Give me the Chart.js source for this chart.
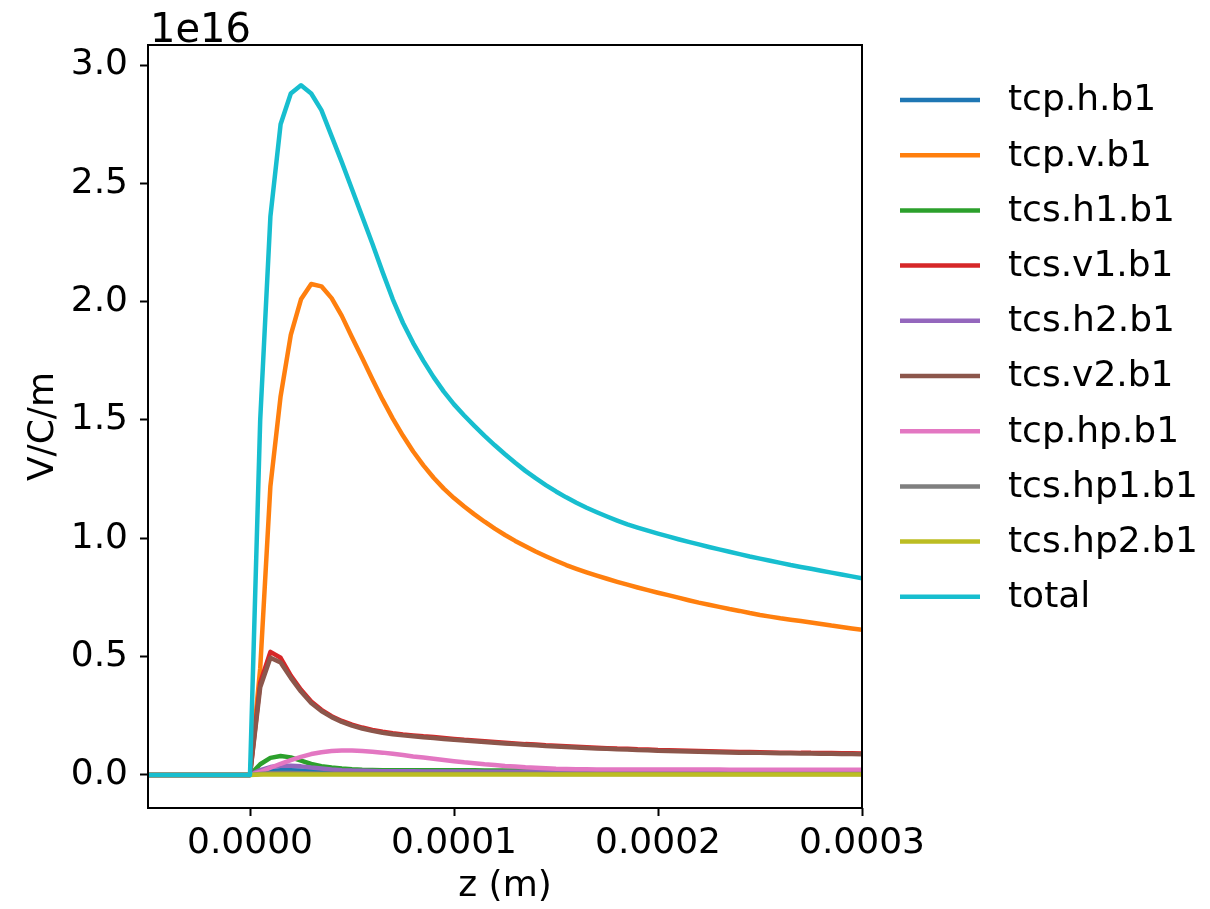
<!DOCTYPE html>
<html>
<head>
<meta charset="utf-8">
<script src="https://cdn.jsdelivr.net/npm/chart.js@4.4.1/dist/chart.umd.min.js"></script>
<style>
html,body{margin:0;padding:0;background:#fff;}
#wrap{width:1210px;height:909px;position:relative;}
</style>
</head>
<body>
<div id="wrap"><canvas id="c" width="1210" height="909"></canvas></div>
<script>
// z positions in micrometres (converted to metres below)
const zUm = [-50,-45,-40,-35,-30,-25,-20,-15,-10,-5,0,
  5,10,15,20,25,30,35,40,45,50,55,60,65,70,75,80,85,90,95,100,
  105,110,115,120,125,130,135,140,145,150,155,160,165,170,175,180,185,190,195,200,
  205,210,215,220,225,230,235,240,245,250,255,260,265,270,275,280,285,290,295,300];

const xTicks = [0, 0.0001, 0.0002, 0.0003];
const yTicks = [0, 0.5, 1.0, 1.5, 2.0, 2.5, 3.0];
const yOffsetLabel = "1e16";

const labels = ["tcp.h.b1","tcp.v.b1","tcs.h1.b1","tcs.v1.b1","tcs.h2.b1","tcs.v2.b1","tcp.hp.b1","tcs.hp1.b1","tcs.hp2.b1","total"];
const colors = ["#1f77b4","#ff7f0e","#2ca02c","#d62728","#9467bd","#8c564b","#e377c2","#7f7f7f","#bcbd22","#17becf"];

// values in units of 1e16 V/C/m
const tcp_h_b1 = [0,0,0,0,0,0,0,0,0,0,0,
  0.008,0.016,0.020,0.020,0.018,0.016,0.014,0.013,0.012,0.012,0.012,0.012,0.011,0.011,0.011,0.011,0.011,0.011,0.010,0.010,
  0.010,0.010,0.010,0.010,0.010,0.010,0.010,0.009,0.009,0.009,0.009,0.009,0.009,0.009,0.009,0.009,0.009,0.009,0.009,0.009,
  0.009,0.009,0.009,0.008,0.008,0.008,0.008,0.008,0.008,0.008,0.008,0.008,0.008,0.008,0.008,0.008,0.008,0.008,0.008,0.008];
const tcp_v_b1 = [0,0,0,0,0,0,0,0,0,0,0,
  0.45,1.22,1.60,1.86,2.01,2.075,2.065,2.015,1.94,1.85,1.762,1.672,1.586,1.506,1.433,1.367,1.308,1.256,1.210,1.170,
  1.134,1.101,1.070,1.041,1.014,0.989,0.966,0.944,0.924,0.905,0.887,0.871,0.856,0.842,0.829,0.816,0.804,0.792,0.781,0.770,
  0.76,0.749,0.738,0.728,0.719,0.71,0.701,0.693,0.684,0.676,0.669,0.662,0.656,0.65,0.644,0.638,0.631,0.625,0.619,0.613];
const tcs_h1_b1 = [0,0,0,0,0,0,0,0,0,0,0,
  0.045,0.072,0.080,0.074,0.060,0.046,0.037,0.031,0.027,0.024,0.022,0.021,0.020,0.020,0.020,0.020,0.020,0.020,0.020,0.020,
  0.020,0.020,0.019,0.019,0.019,0.019,0.019,0.019,0.019,0.019,0.019,0.019,0.019,0.019,0.018,0.018,0.018,0.018,0.018,0.018,
  0.018,0.018,0.018,0.018,0.018,0.018,0.018,0.018,0.018,0.018,0.017,0.017,0.017,0.017,0.017,0.017,0.017,0.017,0.017,0.017];
const tcs_v1_b1 = [0,0,0,0,0,0,0,0,0,0,0,
  0.39,0.52,0.495,0.42,0.36,0.31,0.275,0.248,0.228,0.212,0.20,0.19,0.182,0.176,0.171,0.167,0.163,0.16,0.156,0.152,
  0.148,0.145,0.142,0.139,0.136,0.133,0.13,0.128,0.125,0.123,0.121,0.119,0.117,0.115,0.113,0.111,0.11,0.108,0.107,0.105,
  0.104,0.103,0.102,0.101,0.10,0.099,0.098,0.097,0.097,0.096,0.095,0.094,0.094,0.093,0.093,0.092,0.092,0.091,0.091,0.09];
const tcs_h2_b1 = [0,0,0,0,0,0,0,0,0,0,0,
  0.020,0.033,0.039,0.039,0.036,0.031,0.027,0.023,0.020,0.018,0.017,0.016,0.015,0.015,0.015,0.015,0.014,0.014,0.014,0.014,
  0.014,0.014,0.013,0.013,0.013,0.013,0.013,0.013,0.013,0.013,0.012,0.012,0.012,0.012,0.012,0.012,0.012,0.012,0.012,0.012,
  0.012,0.012,0.012,0.012,0.012,0.011,0.011,0.011,0.011,0.011,0.011,0.011,0.011,0.011,0.011,0.011,0.011,0.011,0.011,0.011];
const tcs_v2_b1 = [0,0,0,0,0,0,0,0,0,0,0,
  0.37,0.495,0.475,0.41,0.352,0.304,0.27,0.244,0.224,0.208,0.196,0.186,0.178,0.172,0.167,0.163,0.159,0.156,0.152,0.148,
  0.145,0.142,0.139,0.136,0.133,0.13,0.127,0.125,0.122,0.12,0.118,0.116,0.114,0.112,0.11,0.108,0.107,0.105,0.104,0.102,
  0.101,0.10,0.099,0.098,0.097,0.096,0.095,0.094,0.094,0.093,0.092,0.091,0.091,0.09,0.09,0.089,0.089,0.088,0.088,0.087];
const tcp_hp_b1 = [0,0,0,0,0,0,0,0,0,0,0,
  0.012,0.030,0.047,0.062,0.076,0.088,0.096,0.101,0.103,0.103,0.101,0.098,0.094,0.089,0.084,0.078,0.073,0.068,0.063,0.058,
  0.053,0.049,0.045,0.042,0.038,0.035,0.032,0.030,0.028,0.026,0.025,0.024,0.024,0.023,0.023,0.023,0.023,0.023,0.023,0.023,
  0.023,0.023,0.023,0.023,0.023,0.023,0.022,0.022,0.022,0.022,0.022,0.022,0.022,0.022,0.022,0.022,0.022,0.022,0.022,0.022];
const tcs_hp1_b1 = [0,0,0,0,0,0,0,0,0,0,0,
  0.004,0.007,0.008,0.008,0.007,0.006,0.005,0.005,0.005,0.005,0.005,0.005,0.005,0.005,0.005,0.005,0.005,0.005,0.005,0.005,
  0.005,0.005,0.005,0.005,0.005,0.005,0.005,0.005,0.004,0.004,0.004,0.004,0.004,0.004,0.004,0.004,0.004,0.004,0.004,0.004,
  0.004,0.004,0.004,0.004,0.004,0.004,0.004,0.004,0.004,0.004,0.004,0.004,0.004,0.004,0.004,0.004,0.004,0.004,0.004,0.004];
const tcs_hp2_b1 = [0,0,0,0,0,0,0,0,0,0,0,
  0.002,0.002,0.002,0.002,0.002,0.002,0.002,0.002,0.002,0.002,0.002,0.002,0.002,0.002,0.002,0.002,0.002,0.002,0.002,0.002,
  0.002,0.002,0.002,0.002,0.002,0.002,0.002,0.002,0.002,0.002,0.002,0.002,0.002,0.002,0.002,0.002,0.002,0.002,0.002,0.002,
  0.002,0.002,0.002,0.002,0.002,0.002,0.002,0.002,0.002,0.002,0.002,0.002,0.002,0.002,0.002,0.002,0.002,0.002,0.002,0.002];
const total = [0,0,0,0,0,0,0,0,0,0,0,
  1.50,2.36,2.75,2.88,2.915,2.88,2.81,2.70,2.59,2.475,2.36,2.245,2.125,2.01,1.91,1.825,1.750,1.681,1.620,1.566,
  1.519,1.475,1.433,1.393,1.355,1.319,1.285,1.254,1.225,1.198,1.173,1.150,1.129,1.110,1.092,1.075,1.059,1.045,1.032,1.020,
  1.008,0.996,0.985,0.974,0.963,0.953,0.943,0.933,0.923,0.914,0.905,0.896,0.887,0.879,0.871,0.863,0.855,0.847,0.839,0.831];

const series = [tcp_h_b1,tcp_v_b1,tcs_h1_b1,tcs_v1_b1,tcs_h2_b1,tcs_v2_b1,tcp_hp_b1,tcs_hp1_b1,tcs_hp2_b1,total];
const zM = zUm.map(v => v * 1e-6);

const FONT = "'DejaVu Sans', sans-serif";
const FS = 36;

const datasets = series.map((vals, i) => ({
  label: labels[i],
  data: zM.map((z, k) => ({x: z, y: vals[k]})),
  borderColor: colors[i],
  backgroundColor: colors[i],
  borderWidth: 4.5,
  pointRadius: 0,
  tension: 0,
  fill: false,
  borderJoinStyle: 'round',
  borderCapStyle: 'butt',
  order: series.length - 1 - i
}));

const framePlugin = {
  id: 'frame',
  afterDraw(chart) {
    const ctx = chart.ctx;
    const a = chart.chartArea;
    ctx.save();
    ctx.strokeStyle = '#000';
    ctx.lineWidth = 2;
    ctx.strokeRect(a.left, a.top, a.right - a.left, a.bottom - a.top);
    // offset text
    ctx.fillStyle = '#000';
    ctx.font = '40px ' + FONT;
    ctx.textAlign = 'left';
    ctx.textBaseline = 'alphabetic';
    ctx.fillText(yOffsetLabel, 150, 42);
    // legend
    ctx.font = FS + 'px ' + FONT;
    const lx0 = 900, lx1 = 980, tx = 1008, y0 = 100, dy = 55.2;
    chart.data.datasets.forEach((ds, i) => {
      const y = y0 + i * dy;
      ctx.strokeStyle = ds.borderColor;
      ctx.lineWidth = 4.5;
      ctx.beginPath();
      ctx.moveTo(lx0, y);
      ctx.lineTo(lx1, y);
      ctx.stroke();
      ctx.fillStyle = '#000';
      ctx.textBaseline = 'middle';
      ctx.fillText(ds.label, tx, y + 1);
    });
    ctx.restore();
  }
};

new Chart(document.getElementById('c'), {
  type: 'line',
  data: { datasets },
  plugins: [framePlugin],
  options: {
    responsive: false,
    animation: false,
    layout: { padding: { left: 0, top: 45, right: 348, bottom: 0 } },
    plugins: { legend: { display: false }, tooltip: { enabled: false } },
    scales: {
      x: {
        type: 'linear',
        min: -0.00005,
        max: 0.0003,
        afterBuildTicks: s => { s.ticks = xTicks.map(v => ({value: v})); },
        afterFit: s => { s.height = 101; },
        border: { display: false },
        grid: { drawOnChartArea: false, drawTicks: true, tickLength: 8, tickWidth: 2, tickColor: '#000' },
        ticks: {
          autoSkip: false, maxRotation: 0, padding: 6, color: '#000',
          font: { family: FONT, size: FS },
          callback: v => v.toFixed(4)
        },
        title: { display: true, text: 'z (m)', color: '#000', font: { family: FONT, size: FS }, padding: { top: 0, bottom: 1 } }
      },
      y: {
        type: 'linear',
        min: -0.14,
        max: 3.085,
        afterBuildTicks: s => { s.ticks = yTicks.map(v => ({value: v})); },
        afterFit: s => { s.width = 148; },
        border: { display: false },
        grid: { drawOnChartArea: false, drawTicks: true, tickLength: 8, tickWidth: 2, tickColor: '#000' },
        ticks: {
          autoSkip: false, padding: 12, color: '#000',
          font: { family: FONT, size: FS },
          callback: v => v.toFixed(1)
        },
        title: { display: true, text: 'V/C/m', color: '#000', font: { family: FONT, size: FS }, padding: { top: 22, bottom: 0 } }
      }
    }
  }
});
</script>
</body>
</html>
